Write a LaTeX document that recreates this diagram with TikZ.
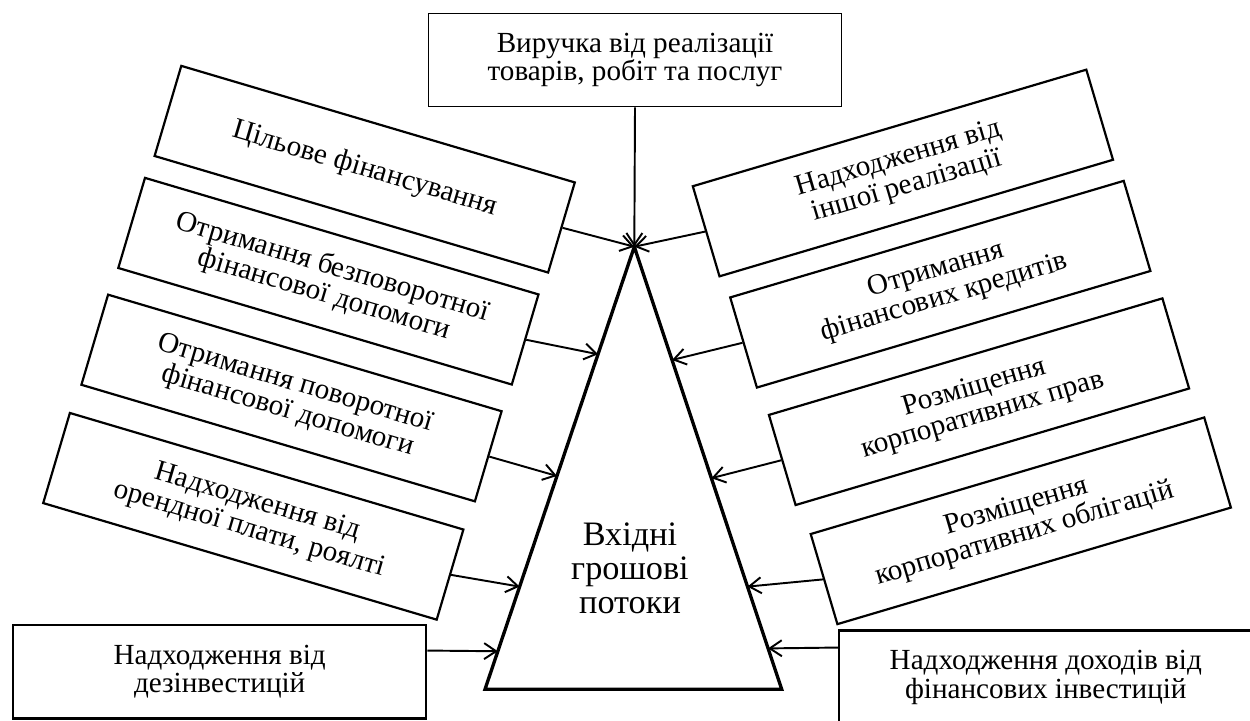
\documentclass[tikz,border=0pt]{standalone}
\usepackage{fontspec}
\setmainfont{Liberation Serif}
\usetikzlibrary{arrows.meta,calc}
\begin{document}
\begin{tikzpicture}[x=0.02cm,y=-0.02cm,
  bx/.style={draw, line width=1.25pt, minimum width=8.21cm, minimum height=1.88cm, inner sep=0pt, align=center, font=\fontsize{16.6}{16.3}\selectfont},
  lbx/.style={bx, rotate=-16.5},
  rbx/.style={bx, rotate=16.5},
  flat/.style={bx, minimum width=8.26cm, minimum height=1.87cm},
  arr/.style={line width=1.1pt, -{Straight Barb[length=0.24cm,width=0.32cm,line width=1.1pt]}}
]
\useasboundingbox (0,0) rectangle (1250,720);
\clip (0,0) rectangle (1250,720);

% triangle
\coordinate (apex) at (634.3,246.7);
\coordinate (bl) at (485,689.3);
\coordinate (br) at (781.7,689.3);
\draw[line width=1.9pt] (apex) -- (bl) -- (br) -- cycle;
\node[align=center, font=\fontsize{19.5}{19.4}\selectfont] (core) at (630,568) {Вхідні\\грошові\\потоки};

% top box
\node[flat, line width=0.6pt] (T) at (635,60) {Виручка від реалізації\\товарів, робіт та послуг};

% left boxes
\node[lbx] (L1) at (364.7,169.2) {Цільове фінансування};
\node[lbx] (L2) at (328.4,281.2) {Отримання безповоротної\\фінансової допомоги};
\node[lbx] (L3) at (291.5,398) {Отримання поворотної\\фінансової допомоги};
\node[lbx] (L4) at (253.3,516.3) {Надходження від\\орендної плати, роялті};
\node[flat] (L5) at (219.7,671.7) {Надходження від\\дезінвестицій};

% right boxes
\node[rbx] (R1) at (902.9,173) {Надходження від\\іншої реалізації};
\node[rbx] (R2) at (940.3,284.2) {Отримання\\фінансових кредитів};
\node[rbx] (R3) at (979,401.7) {Розміщення\\корпоративних прав};
\node[rbx] (R4) at (1020.8,520.8) {Розміщення\\корпоративних облігацій};
\node[flat] (R5) at (1045.8,677.2) {Надходження доходів від\\фінансових інвестицій};

% end points on the triangle
\coordinate (eL2) at ($(apex)!0.243!(bl)$);
\coordinate (eL3) at ($(apex)!0.518!(bl)$);
\coordinate (eL4) at ($(apex)!0.768!(bl)$);
\coordinate (eL5) at ($(apex)!0.914!(bl)$);
\coordinate (eR2) at ($(apex)!0.256!(br)$);
\coordinate (eR3) at ($(apex)!0.523!(br)$);
\coordinate (eR4) at ($(apex)!0.768!(br)$);
\coordinate (eR5) at ($(apex)!0.9076!(br)$);
\coordinate (sL5) at ($(L5.north east)!0.279!(L5.south east)$);
\coordinate (sR5) at ($(R5.north west)!0.19!(R5.south west)$);

% connectors
\draw[arr] (T.south) -- (apex);
\draw[arr] (L1.east) -- (apex);
\draw[arr] (L2.east) -- (eL2);
\draw[arr] (L3.east) -- (eL3);
\draw[arr] (L4.east) -- (eL4);
\draw[arr] (sL5) -- (eL5);
\draw[arr] (R1.west) -- (apex);
\draw[arr] (R2.west) -- (eR2);
\draw[arr] (R3.west) -- (eR3);
\draw[arr] (R4.west) -- (eR4);
\draw[arr] (sR5) -- (eR5);
\end{tikzpicture}
\end{document}
